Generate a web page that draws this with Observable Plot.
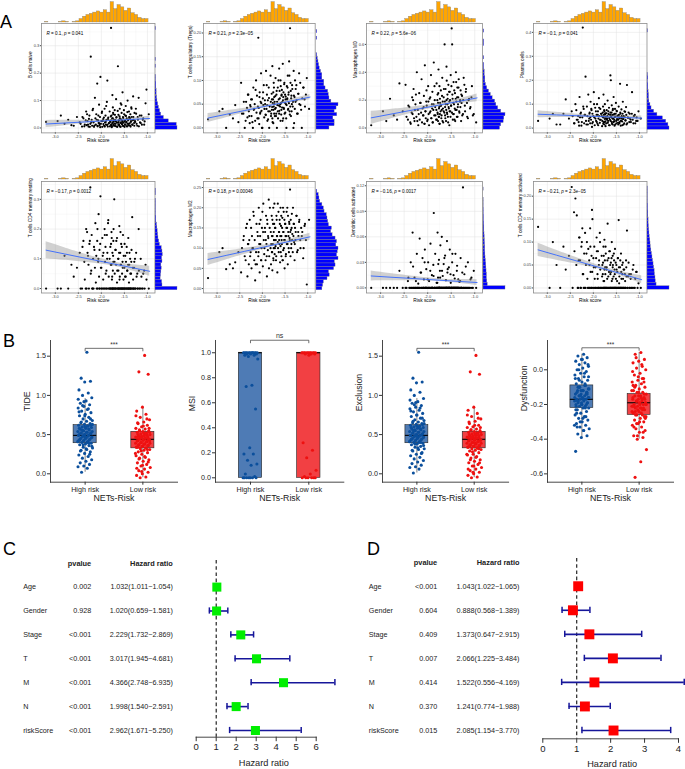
<!DOCTYPE html>
<html><head><meta charset="utf-8">
<script src="https://cdn.jsdelivr.net/npm/d3@7"></script>
<script src="https://cdn.jsdelivr.net/npm/@observablehq/plot@0.6"></script>
<style>
body{margin:0;background:#fff;}
#fig{position:relative;width:685px;height:769px;overflow:hidden;background:#fff;font-family:"Liberation Sans",Arial,Helvetica,sans-serif;}
.plab{position:absolute;font-size:18px;line-height:1;color:#000;}
</style></head><body><div id="fig"></div>
<script>
// ---------------- DATA ----------------
const riskScore = [-3.2,
-2.88,-2.8,-2.72, -2.6,-2.53, -2.47,-2.42, -2.39,-2.36,-2.33, -2.32,-2.3,-2.28,-2.26,
-2.24,-2.23,-2.21,-2.2,-2.18, -2.17,-2.16,-2.14,-2.13,-2.12,-2.11, -2.09,-2.08,-2.07,-2.06,-2.05,-2.04,-2.03,
-2.02,-2.01,-1.99,-1.98,-1.97,-1.96, -1.94,-1.93,-1.92,-1.91,-1.9,-1.89,-1.88, -1.87,-1.86,-1.85,-1.84,-1.82,-1.81,
-1.79,-1.79,-1.78,-1.78,-1.77,-1.76,-1.76,-1.75,-1.75,-1.74,-1.74,-1.73, -1.72,-1.71,-1.7,-1.69,-1.68,-1.67,-1.66,-1.66,
-1.64,-1.63,-1.63,-1.62,-1.61,-1.6,-1.6,-1.59,-1.58,-1.58, -1.57,-1.56,-1.55,-1.54,-1.54,-1.53,-1.52,-1.51,-1.5,
-1.49,-1.48,-1.47,-1.46,-1.45,-1.44,-1.43, -1.42,-1.41,-1.4,-1.39,-1.38,-1.37,-1.36,-1.35,
-1.34,-1.33,-1.31,-1.3,-1.29,-1.28, -1.27,-1.25,-1.22,-1.21, -1.19,-1.16,-1.13, -1.1,-1.07, -1.02,-0.97];
const riskScore2 = [-2.95,-2.65, -2.45,-2.41,-2.37,-2.34,-2.31, -2.29,-2.27,-2.25,-2.22,-2.19,-2.15,
-2.1,-2.085,-2.065,-2.045,-2.025,-2.0,-1.985, -1.955,-1.945,-1.925,-1.905,-1.895,-1.875,-1.855,-1.835,
-1.815,-1.805,-1.795,-1.785,-1.775,-1.765,-1.755,-1.745,-1.735,-1.725, -1.715,-1.705,-1.695,-1.685,-1.675,-1.655,-1.645,-1.635,
-1.625,-1.615,-1.605,-1.595,-1.585,-1.575,-1.565,-1.555,-1.545, -1.535,-1.525,-1.515,-1.505,-1.495,-1.485,-1.475,-1.465,
-1.455,-1.445,-1.435,-1.425,-1.415,-1.405,-1.395, -1.385,-1.375,-1.365,-1.355,-1.345,-1.325,-1.315,
-1.305,-1.285,-1.265,-1.245,-1.235, -1.205,-1.185,-1.165,-1.145, -1.12,-1.09,-1.06,-1.04];
const bCellsNaive = [0.022, 0.045,0.015,0.03, 0.008,0.04, 0.02,0.005, 0.035,0.012,0.06, 0.01,0.025,0.005,0.045,
0.015,0.26,0.03,0.008,0.07, 0.02,0.004,0.11,0.035,0.012,0.05, 0.162,0.006,0.028,0.018,0.085,0.01,0.04,
0.186,0.015,0.055,0.004,0.025,0.032, 0.008,0.07,0.02,0.045,0.012,0.03,0.095, 0.173,0.005,0.038,0.016,0.06,0.022,
0.365,0.01,0.028,0.045,0.006,0.12,0.018,0.035,0.075,0.012,0.05,0.024, 0.008,0.065,0.03,0.015,0.105,0.04,0.02,0.005,
0.225,0.012,0.048,0.026,0.008,0.07,0.035,0.018,0.09,0.004, 0.03,0.055,0.014,0.13,0.022,0.04,0.007,0.065,0.025,
0.012,0.045,0.08,0.02,0.035,0.006,0.1, 0.028,0.015,0.06,0.038,0.009,0.05,0.022,0.075, 0.04,0.012,0.115,0.03,0.018,0.055,
0.025,0.07,0.008,0.04, 0.11,0.02,0.045, 0.03,0.012, 0.14,0.05];
const bCellsNaive2 = [0.025,0.01, 0.015,0.04,0.006,0.028,0.05, 0.012,0.033,0.004,0.02,0.065,0.009,
0.03,0.008,0.045,0.017,0.003,0.025,0.06, 0.014,0.038,0.005,0.022,0.08,0.011,0.032,0.018,
0.006,0.027,0.042,0.013,0.003,0.035,0.02,0.055,0.009,0.03, 0.016,0.048,0.007,0.024,0.038,0.004,0.062,0.019,
0.028,0.011,0.042,0.005,0.033,0.02,0.085,0.014,0.026, 0.008,0.036,0.019,0.05,0.004,0.027,0.012,0.044,
0.022,0.006,0.058,0.015,0.031,0.009,0.04, 0.017,0.034,0.005,0.025,0.07,0.012,0.028,
0.04,0.008,0.022,0.052,0.015, 0.03,0.006,0.045,0.018, 0.012,0.035,0.024,0.09];
const tregs = [0.018, 0.04,0.0,0.028, 0.048,0.012, 0.095,0.03, 0.0,0.055,0.022, 0.07,0.035,0.01,0.045,
0.025,0.06,0.0,0.085,0.04, 0.05,0.015,0.1,0.032,0.068,0.02, 0.19,0.042,0.008,0.075,0.03,0.055,0.115,
0.036,0.0,0.062,0.048,0.09,0.022, 0.05,0.028,0.12,0.04,0.07,0.015,0.058, 0.035,0.085,0.0,0.045,0.11,0.025,
0.06,0.038,0.13,0.02,0.052,0.075,0.01,0.045,0.095,0.03,0.065,0.055, 0.04,0.105,0.025,0.07,0.0,0.048,0.085,0.035,
0.06,0.125,0.03,0.078,0.045,0.015,0.1,0.052,0.068,0.038, 0.08,0.055,0.135,0.02,0.065,0.042,0.092,0.03,0.07,
0.06,0.05,0.0,0.088,0.062,0.11,0.04, 0.075,0.14,0.035,0.21,0.095,0.025,0.068,0.05, 0.082,0.045,0.12,0.01,0.065,0.1,
0.055,0.09,0.03,0.072, 0.115,0.048,0.0, 0.085,0.06, 0.105,0.04];
const tregs2 = [0.035,0.02, 0.03,0.055,0.015,0.042,0.07, 0.025,0.048,0.06,0.012,0.038,0.08,
0.045,0.02,0.065,0.033,0.052,0.0,0.075, 0.04,0.058,0.027,0.09,0.048,0.018,0.063,0.035,
0.055,0.03,0.072,0.044,0.012,0.06,0.038,0.085,0.05,0.025, 0.067,0.042,0.03,0.078,0.055,0.02,0.1,0.047,
0.036,0.062,0.05,0.088,0.028,0.07,0.043,0.015,0.058, 0.075,0.04,0.095,0.053,0.032,0.066,0.02,0.048,
0.06,0.085,0.038,0.07,0.052,0.11,0.028, 0.045,0.078,0.062,0.035,0.09,0.055,0.0,
0.068,0.04,0.082,0.058,0.03, 0.072,0.05,0.095,0.038, 0.062,0.085,0.045,0.07];
const macrophagesM0 = [0.02, 0.05,0.21,0.09, 0.32,0.12, 0.31,0.06, 0.15,0.03,0.22, 0.1,0.28,0.05,0.17,
0.08,0.4,0.13,0.02,0.25, 0.06,0.18,0.11,0.35,0.04,0.14, 0.09,0.23,0.03,0.45,0.12,0.07,0.19,
0.16,0.05,0.3,0.1,0.02,0.21, 0.12,0.38,0.07,0.17,0.26,0.04,0.13, 0.47,0.09,0.2,0.15,0.06,0.32,
0.11,0.24,0.05,0.18,0.42,0.08,0.14,0.3,0.03,0.21,0.1,0.16, 0.27,0.07,0.13,0.36,0.19,0.04,0.22,0.12,
0.6,0.15,0.09,0.28,0.05,0.2,0.44,0.11,0.17,0.24, 0.08,0.31,0.14,0.19,0.02,0.26,0.12,0.38,0.16,
0.715,0.6,0.21,0.1,0.33,0.17,0.06, 0.25,0.13,0.4,0.19,0.08,0.29,0.15,0.22, 0.35,0.12,0.2,0.27,0.05,0.18,
0.23,0.1,0.31,0.16, 0.26,0.08,0.2, 0.14,0.22, 0.1,0.04];
const macrophagesM0b = [0.12,0.06, 0.08,0.16,0.04,0.11,0.2, 0.07,0.13,0.24,0.05,0.1,0.18,
0.09,0.15,0.03,0.12,0.27,0.06,0.19, 0.11,0.22,0.07,0.14,0.04,0.17,0.3,0.09,
0.13,0.06,0.2,0.1,0.25,0.08,0.15,0.03,0.18,0.12, 0.16,0.09,0.23,0.05,0.14,0.28,0.11,0.19,
0.07,0.17,0.13,0.34,0.1,0.21,0.04,0.15,0.26, 0.12,0.2,0.08,0.16,0.3,0.11,0.24,0.06,
0.18,0.1,0.27,0.14,0.05,0.21,0.33, 0.13,0.22,0.08,0.17,0.29,0.11,0.19,
0.15,0.24,0.09,0.2,0.36, 0.12,0.28,0.18,0.07, 0.21,0.15,0.3,0.09];
const plasmaCells = [0.03, 0.06,0.015,0.015, 0.12,0.04, 0.07,0.02, 0.1,0.035,0.05, 0.025,0.13,0.06,0.01,
0.045,0.42,0.08,0.02,0.055, 0.215,0.03,0.09,0.05,0.015,0.14, 0.04,0.065,0.02,0.11,0.035,0.075,0.005,
0.06,0.025,0.15,0.045,0.012,0.085, 0.03,0.055,0.1,0.018,0.07,0.04,0.125, 0.05,0.022,0.08,0.035,0.06,0.008,
0.045,0.09,0.025,0.14,0.055,0.015,0.07,0.038,0.1,0.028,0.062,0.048, 0.02,0.075,0.04,0.115,0.03,0.058,0.012,0.085,
0.035,0.065,0.22,0.2,0.045,0.025,0.095,0.055,0.015,0.075, 0.04,0.13,0.028,0.06,0.01,0.08,0.048,0.105,0.02,
0.07,0.035,0.052,0.015,0.09,0.042,0.025, 0.185,0.06,0.03,0.078,0.045,0.012,0.11,0.038, 0.05,0.02,0.068,0.032,0.088,0.015,
0.18,0.045,0.025,0.06, 0.035,0.15,0.02, 0.055,0.03, 0.07,0.04];
const plasmaCells2 = [0.04,0.06, 0.05,0.02,0.075,0.035,0.01, 0.045,0.065,0.025,0.09,0.055,0.015,
0.03,0.06,0.045,0.08,0.02,0.05,0.1, 0.04,0.07,0.025,0.055,0.012,0.085,0.035,0.06,
0.05,0.03,0.065,0.018,0.045,0.075,0.025,0.058,0.008,0.04, 0.062,0.035,0.05,0.022,0.07,0.042,0.012,0.055,
0.03,0.048,0.065,0.018,0.04,0.08,0.025,0.056,0.035, 0.045,0.015,0.06,0.03,0.072,0.038,0.05,0.022,
0.035,0.055,0.02,0.045,0.065,0.01,0.04, 0.05,0.028,0.06,0.038,0.015,0.07,0.045,
0.032,0.055,0.02,0.042,0.065, 0.04,0.025,0.06,0.035, 0.05,0.02,0.045,0.03];
const cd4MemoryResting = [0.0, 0.0,0.11,0.0, 0.04,0.07, 0.12,0.0, 0.16,0.03,0.2, 0.0,0.12,0.08,0.15,
0.34,0.05,0.18,0.0,0.1, 0.0,0.14,0.07,0.22,0.02,0.11, 0.16,0.0,0.09,0.25,0.04,0.13,0.0,
0.31,0.07,0.0,0.17,0.11,0.03, 0.0,0.2,0.09,0.14,0.0,0.06,0.18, 0.12,0.0,0.23,0.04,0.1,0.0,
0.15,0.0,0.08,0.19,0.03,0.0,0.12,0.06,0.0,0.16,0.09,0.0, 0.3,0.05,0.0,0.13,0.08,0.0,0.17,0.02,
0.0,0.1,0.06,0.0,0.21,0.04,0.0,0.12,0.08,0.0, 0.15,0.0,0.05,0.09,0.0,0.18,0.03,0.0,0.07,
0.0,0.11,0.04,0.0,0.14,0.06,0.0, 0.08,0.0,0.02,0.12,0.0,0.05,0.0,0.09, 0.0,0.24,0.03,0.0,0.07,0.0,
0.1,0.0,0.05,0.0, 0.2,0.0,0.04, 0.0,0.06, 0.03,0.0];
const cd4MemoryResting2 = [0.0,0.08, 0.0,0.14,0.09,0.0,0.19, 0.11,0.0,0.16,0.06,0.0,0.13,
0.0,0.2,0.1,0.0,0.15,0.07,0.0, 0.12,0.0,0.18,0.05,0.0,0.1,0.22,0.0,
0.0,0.14,0.08,0.0,0.17,0.04,0.0,0.11,0.2,0.0, 0.09,0.0,0.13,0.0,0.16,0.06,0.0,0.1,
0.0,0.12,0.03,0.0,0.19,0.08,0.0,0.14,0.0, 0.07,0.0,0.11,0.0,0.15,0.04,0.0,0.09,
0.0,0.12,0.06,0.0,0.17,0.0,0.08, 0.0,0.1,0.0,0.05,0.13,0.0,0.07,
0.0,0.09,0.0,0.12,0.04, 0.0,0.06,0.0,0.1, 0.0,0.05,0.0,0.08];
const macrophagesM2 = [0.026, 0.1,0.048,0.06, 0.065,0.09, 0.04,0.12, 0.08,0.15,0.03, 0.11,0.06,0.17,0.09,
0.05,0.13,0.1,0.19,0.07, 0.12,0.02,0.09,0.16,0.06,0.14, 0.08,0.2,0.11,0.04,0.13,0.17,0.07,
0.1,0.15,0.055,0.21,0.12,0.085, 0.14,0.07,0.18,0.11,0.03,0.16,0.095, 0.125,0.22,0.08,0.15,0.1,0.06,
0.13,0.09,0.17,0.045,0.11,0.2,0.075,0.14,0.1,0.16,0.12,0.085, 0.15,0.105,0.07,0.18,0.13,0.04,0.115,0.21,
0.09,0.14,0.12,0.17,0.065,0.2,0.105,0.155,0.08,0.13, 0.11,0.175,0.07,0.14,0.095,0.19,0.12,0.05,0.16,
0.13,0.085,0.15,0.11,0.2,0.06,0.14, 0.1,0.165,0.125,0.245,0.08,0.145,0.11,0.185, 0.135,0.09,0.16,0.115,0.07,0.15,
0.12,0.18,0.095,0.14, 0.165,0.1,0.13, 0.075,0.155, 0.01,0.17];
const macrophagesM2b = [0.09,0.05, 0.1,0.13,0.07,0.16,0.11, 0.12,0.08,0.15,0.1,0.18,0.06,
0.13,0.09,0.16,0.11,0.07,0.19,0.14, 0.1,0.15,0.12,0.08,0.17,0.13,0.05,0.2,
0.14,0.11,0.18,0.09,0.13,0.16,0.07,0.12,0.21,0.1, 0.15,0.12,0.08,0.17,0.13,0.1,0.19,0.14,
0.11,0.16,0.13,0.09,0.18,0.12,0.15,0.07,0.2, 0.14,0.1,0.17,0.12,0.16,0.08,0.13,0.19,
0.15,0.11,0.18,0.13,0.09,0.16,0.12, 0.14,0.17,0.1,0.15,0.12,0.2,0.13,
0.16,0.11,0.14,0.18,0.09, 0.13,0.17,0.12,0.15, 0.14,0.1,0.16,0.12];
const dcActivated = [0.0, 0.0,0.0,0.0, 0.02,0.0, 0.0,0.008, 0.0,0.03,0.0, 0.065,0.0,0.012,0.0,
0.0,0.04,0.0,0.005,0.0, 0.058,0.0,0.018,0.0,0.0,0.035, 0.0,0.01,0.0,0.045,0.0,0.0,0.022,
0.0,0.0,0.03,0.0,0.008,0.0, 0.052,0.0,0.0,0.015,0.0,0.0,0.027, 0.088,0.0,0.0,0.04,0.0,0.006,
0.0,0.065,0.0,0.012,0.0,0.0,0.033,0.0,0.0,0.02,0.0,0.05, 0.0,0.0,0.06,0.0,0.014,0.0,0.0,0.028,
0.0,0.0,0.038,0.0,0.009,0.0,0.0,0.055,0.0,0.018, 0.0,0.0,0.024,0.0,0.0,0.045,0.0,0.006,0.0,
0.0,0.03,0.0,0.0,0.015,0.0,0.0, 0.0,0.04,0.0,0.0,0.02,0.0,0.0,0.01, 0.0,0.0,0.008,0.035,0.0,0.0,
0.0,0.118,0.016,0.0, 0.025,0.0,0.0, 0.0,0.012, 0.02,0.0];
const dcActivated2 = [0.0,0.0, 0.0,0.012,0.0,0.0,0.025, 0.0,0.0,0.008,0.0,0.0,0.018,
0.0,0.0,0.03,0.0,0.0,0.01,0.0, 0.0,0.02,0.0,0.0,0.0,0.014,0.0,0.0,
0.0,0.0,0.006,0.0,0.028,0.0,0.0,0.0,0.012,0.0, 0.0,0.0,0.02,0.0,0.0,0.0,0.035,0.0,
0.0,0.009,0.0,0.0,0.0,0.022,0.0,0.0,0.0, 0.0,0.0,0.016,0.0,0.0,0.0,0.04,0.0,
0.0,0.0,0.0,0.011,0.0,0.0,0.0, 0.0,0.026,0.0,0.0,0.0,0.007,0.0,
0.0,0.0,0.018,0.0,0.0, 0.0,0.0,0.0,0.03, 0.0,0.01,0.0,0.0];
const cd4MemoryActivated = [0.133, 0.1,0.05,0.0, 0.04,0.07, 0.22,0.165, 0.195,0.158,0.0, 0.06,0.11,0.0,0.09,
0.13,0.03,0.0,0.075,0.12, 0.0,0.05,0.1,0.02,0.0,0.085, 0.06,0.0,0.13,0.035,0.0,0.07,0.17,
0.15,0.0,0.045,0.09,0.02,0.0, 0.065,0.11,0.0,0.03,0.08,0.0,0.05, 0.0,0.12,0.04,0.0,0.07,0.025,
0.055,0.0,0.09,0.015,0.0,0.04,0.105,0.0,0.06,0.03,0.0,0.075, 0.0,0.045,0.02,0.14,0.0,0.065,0.035,0.0,
0.08,0.0,0.03,0.055,0.0,0.1,0.015,0.0,0.045,0.07, 0.0,0.025,0.06,0.0,0.04,0.085,0.0,0.02,0.05,
0.0,0.035,0.065,0.0,0.148,0.01,0.0, 0.045,0.0,0.075,0.02,0.0,0.03,0.055,0.0, 0.0,0.04,0.015,0.0,0.06,0.025,
0.125,0.0,0.03,0.0, 0.02,0.0,0.05, 0.0,0.035, 0.01,0.0];
const cd4MemoryActivated2 = [0.0,0.09, 0.0,0.08,0.05,0.0,0.11, 0.06,0.0,0.1,0.03,0.0,0.075,
0.0,0.05,0.09,0.0,0.035,0.065,0.0, 0.045,0.0,0.08,0.02,0.0,0.06,0.1,0.0,
0.0,0.05,0.03,0.0,0.07,0.015,0.0,0.045,0.09,0.0, 0.04,0.0,0.06,0.0,0.025,0.08,0.0,0.05,
0.0,0.035,0.065,0.0,0.02,0.05,0.0,0.075,0.0, 0.03,0.0,0.055,0.0,0.04,0.015,0.0,0.065,
0.0,0.045,0.025,0.0,0.06,0.0,0.035, 0.0,0.05,0.0,0.02,0.04,0.0,0.03,
0.0,0.045,0.0,0.025,0.055, 0.0,0.03,0.0,0.04, 0.0,0.02,0.035,0.0];

const riskHistStart = -3.225, riskHistWidth = 0.075;
const riskHistCounts = [1,0,0,0,1,2,1,0,1,2,6,10,13,15,17,19,17,21,17,35,23,30,26,20,24,16,13,8,6,6];
const bCellsHist = [58,56,35,22,15,12,9,7,5,4,3,3,2,2,1,1,0,0,1,0,1,0,0,0,0,0,0,0,0,1];
const tregsHist = [20,28,28,26,32,28,31,34,23,20,19,18,14,12,12,9,9,7,5,4,3,2,1,0,0,0,0,1,0,1];
const m0Hist = [27,29,33,34,36,29,24,21,19,15,12,9,6,4,3,3,2,2,1,1,0,1,0,0,0,1,1,0,0,1];
const plasmaHist = [60,57,51,42,27,18,11,8,5,4,4,3,2,2,1,2,1,0,0,0,0,0,0,0,0,0,0,0,0,1];
const cd4RestHist = [60,19,18,14,15,16,17,16,19,18,20,19,17,12,10,8,7,6,5,4,2,2,1,1,1,1,1,0,1,1];
const m2Hist = [8,9,10,15,18,17,24,26,25,30,28,29,30,27,28,26,22,20,21,17,16,15,14,11,10,8,5,4,3,1];
const dcHist = [130,25,22,20,20,18,17,16,14,12,11,10,10,9,8,7,6,5,5,4,3,3,2,2,1,1,1,0,0,1];
const cd4ActHist = [80,33,30,29,27,26,24,22,20,18,16,14,12,11,10,8,7,6,5,4,4,3,3,2,2,1,1,1,1,1];

const fitX = [-3.2,-2.8,-2.4,-1.75,-1.3,-0.95];
const bCellsFit = [0.0144,0.018,0.0216,0.0275,0.0315,0.0347], bCellsLo = [0.0014,0.0083,0.0151,0.0242,0.0264,0.027], bCellsHi = [0.0274,0.0277,0.0281,0.0308,0.0366,0.0424];
const tregsFit = [0.0207,0.0286,0.0364,0.0492,0.058,0.0649], tregsLo = [0.0112,0.0215,0.0316,0.0468,0.0543,0.0593], tregsHi = [0.0302,0.0357,0.0412,0.0516,0.0617,0.0705];
const m0Fit = [0.073,0.0985,0.1239,0.1651,0.1937,0.216], m0Lo = [0.026,0.0635,0.1003,0.1532,0.1753,0.1883], m0Hi = [0.12,0.1335,0.1475,0.177,0.2121,0.2437];
const plasmaFit = [0.058,0.0551,0.0521,0.0474,0.0441,0.0415], plasmaLo = [0.0435,0.0443,0.0448,0.0437,0.0384,0.0329], plasmaHi = [0.0725,0.0659,0.0594,0.0511,0.0498,0.0501];
const cd4RestFit = [0.129,0.1164,0.1037,0.0833,0.0691,0.058], cd4RestLo = [0.1005,0.0952,0.0894,0.0761,0.0579,0.0412], cd4RestHi = [0.1575,0.1376,0.118,0.0905,0.0803,0.0748];
const m2Fit = [0.072,0.082,0.0919,0.1081,0.1193,0.128], m2Lo = [0.057,0.0708,0.0844,0.1043,0.1134,0.1191], m2Hi = [0.087,0.0932,0.0994,0.1119,0.1252,0.1369];
const dcFit = [0.014,0.0126,0.0113,0.009,0.0075,0.0063], dcLo = [0.0082,0.0083,0.0084,0.0075,0.0052,0.0029], dcHi = [0.0198,0.0169,0.0142,0.0105,0.0098,0.0097];
const cd4ActFit = [0.083,0.0714,0.0599,0.0412,0.0281,0.018], cd4ActLo = [0.0685,0.0606,0.0526,0.0375,0.0224,0.0094], cd4ActHi = [0.0975,0.0822,0.0672,0.0449,0.0338,0.0266];

const corrLabels = ["R = 0.1, p = 0.041","R = 0.21, p = 2.3e\u221205","R = 0.22, p = 5.6e\u221206","R = \u22120.1, p = 0.041",
  "R = \u22120.17, p = 0.0012","R = 0.18, p = 0.00046","R = \u22120.16, p = 0.0017","R = \u22120.21, p = 2.3e\u221205"];
const cellTitles = ["B cells naive","T cells regulatory (Tregs)","Macrophages M0","Plasma cells",
  "T cells CD4 memory resting","Macrophages M2","Dendritic cells activated","T cells CD4 memory activated"];

const riskGroups = ["High risk","Low risk"];
const tideHigh = [1.55,1.22,1.18,1.17,1.07,1.03,1.0,0.97,0.93,0.9,0.88,0.86,0.84,0.82,0.8,0.78,0.76,0.74,0.72,0.7,0.68,0.67,0.65,0.64,0.63,0.62,0.61,0.6,0.59,0.58,0.57,0.56,0.55,0.54,0.53,0.52,0.51,0.5,0.5,0.49,0.48,0.47,0.46,0.45,0.44,0.43,0.42,0.41,0.4,0.39,0.38,0.37,0.36,0.34,0.33,0.31,0.3,0.28,0.26,0.24,0.22,0.2,0.18,0.16,0.14,0.12,0.1,0.09,0.07,0.02,
  0.62,0.6,0.58,0.57,0.55,0.54,0.53,0.52,0.51,0.5,0.49,0.48,0.47,0.46,0.45,0.44,0.43,0.42,0.41,0.4,0.66,0.7,0.74,0.79,0.83,0.87,0.35,0.32,0.29,0.25,0.92,0.95,0.61,0.56,0.52,0.47,0.43,0.39,0.37,0.63];
const tideLow = [1.51,1.3,1.27,0.85,0.8,0.76,0.72,0.69,0.66,0.64,0.62,0.6,0.58,0.57,0.56,0.55,0.54,0.53,0.52,0.51,0.5,0.49,0.48,0.47,0.47,0.46,0.45,0.44,0.44,0.43,0.42,0.41,0.4,0.39,0.38,0.37,0.36,0.35,0.34,0.33,0.32,0.31,0.3,0.28,0.27,0.25,0.23,0.21,0.2,0.18,0.16,0.14,0.12,0.1,0.08,0.06,0.04,0.02,0.0,-0.02,-0.04,-0.05,
  0.53,0.52,0.5,0.49,0.48,0.47,0.46,0.45,0.44,0.43,0.42,0.41,0.4,0.39,0.38,0.37,0.36,0.35,0.34,0.33,0.55,0.58,0.61,0.65,0.7,0.29,0.26,0.22,0.19,0.15,0.11,0.07,0.51,0.46,0.42,0.38,0.34,0.31,0.03,0.74];
const tideHighBox = [0.02,0.39,0.49,0.62,0.96], tideLowBox = [-0.05,0.325,0.44,0.535,0.85];
const msiHigh = [1,1,1,1,1,1,1,1,1,1,1,1,1,1,0.99,0.99,0.99,0.98,0.98,0.97,0.95,0.74,0.73,0.55,0.24,0.19,0.19,0.14,0.11,0.1,0.03,0.01,0,0,0,0,0,0,0];
const msiLow = [1,1,1,1,1,1,1,1,1,1,1,1,1,0.99,0.99,0.99,0.98,0.28,0.22,0.16,0.06,0.03,0.01,0,0,0,0,0,0];
const msiHighBox = [0,0,1,1,1], msiLowBox = [0,0,1,1,1];
const exclHigh = [1.55,1.22,1.17,1.16,1.07,1.04,1.0,0.96,0.92,0.9,0.87,0.85,0.83,0.81,0.79,0.77,0.75,0.73,0.71,0.69,0.68,0.66,0.65,0.64,0.63,0.62,0.61,0.6,0.59,0.58,0.57,0.56,0.55,0.54,0.53,0.52,0.51,0.5,0.49,0.49,0.48,0.47,0.46,0.45,0.44,0.43,0.42,0.41,0.4,0.39,0.38,0.37,0.35,0.34,0.32,0.31,0.29,0.27,0.25,0.23,0.21,0.19,0.17,0.15,0.13,0.11,0.09,0.08,0.06,0.01,
  0.63,0.61,0.59,0.57,0.56,0.54,0.53,0.52,0.5,0.5,0.49,0.48,0.47,0.46,0.45,0.44,0.43,0.42,0.41,0.4,0.67,0.71,0.75,0.8,0.84,0.88,0.36,0.33,0.3,0.26,0.91,0.94,0.6,0.55,0.51,0.48,0.44,0.4,0.38,0.64];
const exclLow = [1.51,1.3,1.27,0.85,0.81,0.77,0.73,0.7,0.67,0.64,0.62,0.6,0.59,0.57,0.56,0.55,0.54,0.53,0.52,0.51,0.5,0.49,0.48,0.47,0.46,0.46,0.45,0.44,0.43,0.43,0.42,0.41,0.4,0.39,0.38,0.37,0.36,0.35,0.34,0.33,0.32,0.31,0.3,0.29,0.27,0.25,0.24,0.22,0.2,0.18,0.16,0.14,0.12,0.1,0.08,0.06,0.04,0.02,0.0,-0.02,-0.04,-0.05,
  0.53,0.51,0.5,0.49,0.48,0.47,0.46,0.45,0.44,0.43,0.42,0.41,0.4,0.39,0.38,0.37,0.36,0.35,0.34,0.33,0.56,0.59,0.62,0.66,0.71,0.28,0.25,0.21,0.18,0.14,0.1,0.06,0.52,0.47,0.43,0.39,0.35,0.32,0.02,0.75];
const exclHighBox = [0.01,0.39,0.49,0.62,0.96], exclLowBox = [-0.05,0.325,0.44,0.535,0.85];
const dysfHigh = [0.09,0.08,0.07,0.06,0.05,0.04,0.03,0.02,0.01,0.0,-0.01,-0.02,-0.03,-0.04,-0.05,-0.06,-0.07,-0.08,-0.09,-0.1,-0.11,-0.12,-0.12,-0.13,-0.14,-0.14,-0.15,-0.15,-0.16,-0.16,-0.17,-0.17,-0.17,-0.18,-0.18,-0.19,-0.19,-0.2,-0.2,-0.21,-0.21,-0.22,-0.22,-0.23,-0.24,-0.25,-0.26,-0.27,-0.28,-0.29,-0.3,-0.31,-0.32,-0.33,-0.34,-0.35,-0.37,-0.38,-0.39,-0.47,
  -0.09,-0.1,-0.11,-0.12,-0.13,-0.14,-0.15,-0.16,-0.17,-0.18,-0.19,-0.2,-0.21,-0.22,-0.15,-0.16,-0.17,-0.18,-0.13,-0.12,-0.05,-0.02,0.0,0.03,0.06,-0.25,-0.27,-0.3,-0.32,-0.35,-0.1,-0.14,-0.19,-0.23,-0.08,-0.06,-0.04,-0.28,-0.33,-0.2];
const dysfLow = [0.1,0.09,0.06,0.05,0.04,0.02,0.01,0.0,-0.02,-0.03,-0.05,-0.06,-0.07,-0.08,-0.09,-0.1,-0.11,-0.12,-0.13,-0.13,-0.14,-0.15,-0.15,-0.16,-0.17,-0.17,-0.18,-0.18,-0.19,-0.19,-0.2,-0.2,-0.21,-0.21,-0.22,-0.22,-0.23,-0.24,-0.25,-0.26,-0.26,-0.27,-0.28,-0.29,-0.3,-0.31,-0.32,-0.33,-0.34,-0.35,-0.36,-0.38,-0.39,-0.4,-0.46,-0.53,-0.62,
  -0.14,-0.15,-0.16,-0.17,-0.18,-0.19,-0.2,-0.21,-0.22,-0.23,-0.24,-0.25,-0.26,-0.17,-0.19,-0.21,-0.23,-0.18,-0.2,-0.22,-0.1,-0.07,-0.04,-0.01,0.03,0.07,-0.28,-0.3,-0.33,-0.36,-0.38,-0.12,-0.16,-0.24,-0.27,-0.13,-0.09,-0.05,-0.31,-0.2];
const dysfHighBox = [-0.39,-0.22,-0.17,-0.09,0.09], dysfLowBox = [-0.4,-0.26,-0.19,-0.14,0.1];
const sigLabels = ["***","ns","***","***"];
const sigHeights = [1.6,1.1,1.6,0.127];

const coxVars = ["Age","Gender","Stage","T","M","N","riskScore"];
const uniP = ["0.002","0.928","<0.001","<0.001","<0.001","<0.001","<0.001"];
const uniHR = [1.032,1.020,2.229,3.017,4.366,1.998,2.962];
const uniLo = [1.011,0.659,1.732,1.945,2.748,1.540,1.671];
const uniHi = [1.054,1.581,2.869,4.681,6.935,2.591,5.250];
const multiP = ["<0.001","0.604","0.409","0.007","0.414","0.370","0.015"];
const multiHR = [1.043,0.888,1.373,2.066,1.522,1.241,2.085];
const multiLo = [1.022,0.568,0.647,1.225,0.556,0.774,1.154];
const multiHi = [1.065,1.389,2.915,3.484,4.169,1.988,3.770];

// ---------------- RENDER ----------------
const fig = document.getElementById("fig");
const FONT = '"Liberation Sans", Arial, Helvetica, sans-serif';
function st(fs, color) { return {fontFamily: FONT, fontSize: fs + "px", background: "transparent", overflow: "visible", color: color || "#000"}; }
function put(node, left, top) {
  node.style.position = "absolute"; node.style.left = left + "px"; node.style.top = top + "px";
  node.style.maxWidth = "none"; node.style.overflow = "visible"; node.style.background = "transparent";
  fig.appendChild(node);
}
function fmt(d, dec) { return (d < 0 ? "-" : "") + Math.abs(d).toFixed(dec); }
function label(txt, left, top) { const d = document.createElement("div"); d.className = "plab"; d.textContent = txt; d.style.left = left + "px"; d.style.top = top + "px"; fig.appendChild(d); }

const xDomain = [-3.3, -0.835];
const xMajor = [-3, -2.5, -2, -1.5, -1];
const xMinor = xMajor.map(t => t - 0.25);
const panelsA = [
  {y: bCellsNaive, y2: bCellsNaive2, hist: bCellsHist, bw: 0.0125, fit: bCellsFit, lo: bCellsLo, hi: bCellsHi, ticks: [0,0.1,0.2,0.3], dec: 1, domain: [-0.018, 0.381]},
  {y: tregs, y2: tregs2, hist: tregsHist, bw: 0.007, fit: tregsFit, lo: tregsLo, hi: tregsHi, ticks: [0,0.05,0.1,0.15,0.2], dec: 2, domain: [-0.0105, 0.22]},
  {y: macrophagesM0, y2: macrophagesM0b, hist: m0Hist, bw: 0.024, fit: m0Fit, lo: m0Lo, hi: m0Hi, ticks: [0,0.2,0.4,0.6], dec: 1, domain: [-0.035, 0.75]},
  {y: plasmaCells, y2: plasmaCells2, hist: plasmaHist, bw: 0.014, fit: plasmaFit, lo: plasmaLo, hi: plasmaHi, ticks: [0,0.1,0.2,0.3,0.4], dec: 1, domain: [-0.02, 0.437]},
  {y: cd4MemoryResting, y2: cd4MemoryResting2, hist: cd4RestHist, bw: 0.0114, fit: cd4RestFit, lo: cd4RestLo, hi: cd4RestHi, ticks: [0,0.1,0.2,0.3], dec: 1, domain: [-0.015, 0.36]},
  {y: macrophagesM2, y2: macrophagesM2b, hist: m2Hist, bw: 0.0083, fit: m2Fit, lo: m2Lo, hi: m2Hi, ticks: [0,0.05,0.1,0.15,0.2,0.25], dec: 2, domain: [-0.011, 0.265]},
  {y: dcActivated, y2: dcActivated2, hist: dcHist, bw: 0.004, fit: dcFit, lo: dcLo, hi: dcHi, ticks: [0,0.03,0.06,0.09,0.12], dec: 2, domain: [-0.006, 0.125]},
  {y: cd4MemoryActivated, y2: cd4MemoryActivated2, hist: cd4ActHist, bw: 0.0075, fit: cd4ActFit, lo: cd4ActLo, hi: cd4ActHi, ticks: [0,0.05,0.1,0.15,0.2], dec: 2, domain: [-0.011, 0.232]}
];
const colsA = [[41,154.5],[203.3,315],[366,482],[532.5,646]];
const rowsA = [[23.3,132.7],[180.5,292]];
const riskBins = riskHistCounts.map((n, i) => ({x1: riskHistStart + i * riskHistWidth, x2: riskHistStart + (i + 1) * riskHistWidth, n}));

function italicize(svg) {
  svg.querySelectorAll("text").forEach(t => {
    const m = t.textContent.match(/^R = (.*), p = (.*)$/);
    if (!m) return;
    const NS = "http://www.w3.org/2000/svg";
    while (t.firstChild) t.removeChild(t.firstChild);
    const parts = [["R", true], [" = " + m[1] + ", ", false], ["p", true], [" = " + m[2], false]];
    for (const [s, it] of parts) { const ts = document.createElementNS(NS, "tspan"); ts.textContent = s; if (it) ts.setAttribute("font-style", "italic"); t.appendChild(ts); }
  });
}

panelsA.forEach((p, k) => {
  const [bl, br] = colsA[k % 4], [bt, bb] = rowsA[Math.floor(k / 4)];
  const w = br - bl, h = bb - bt;
  const ML = 32, MT = 1, MR = 1, MB = 14;
  const pts = [];
  for (let i = 0; i < Math.min(riskScore.length, p.y.length); i++) pts.push({x: riskScore[i], y: p.y[i]});
  for (let i = 0; i < Math.min(riskScore2.length, p.y2.length); i++) pts.push({x: riskScore2[i], y: p.y2[i]});
  const fit = fitX.map((x, i) => ({x, y: p.fit[i], lo: p.lo[i], hi: p.hi[i]}));
  const step = p.ticks[1] - p.ticks[0];
  const yMinor = [p.ticks[0] - step / 2, ...p.ticks.map(t => t + step / 2)].filter(v => v > p.domain[0] && v < p.domain[1]);
  const labW = Math.max(...p.ticks.map(t => fmt(t, p.dec).length)) * 2.0;
  const svg = Plot.plot({
    width: w + ML + MR, height: h + MT + MB,
    marginLeft: ML, marginRight: MR, marginTop: MT, marginBottom: MB,
    style: st(4, "#444"),
    x: {domain: xDomain},
    y: {domain: p.domain},
    marks: [
      Plot.ruleX(xMinor, {stroke: "#f0f0f0", strokeWidth: 0.35}),
      Plot.ruleY(yMinor, {stroke: "#f0f0f0", strokeWidth: 0.35}),
      Plot.ruleX(xMajor, {stroke: "#e0e0e0", strokeWidth: 0.5}),
      Plot.ruleY(p.ticks, {stroke: "#e0e0e0", strokeWidth: 0.5}),
      Plot.dot(pts, {x: "x", y: "y", r: 1.1, fill: "#000", stroke: null}),
      Plot.areaY(fit, {x: "x", y1: "lo", y2: "hi", fill: "#999", fillOpacity: 0.45, curve: "natural"}),
      Plot.line(fit, {x: "x", y: "y", stroke: "#3366FF", strokeWidth: 0.9}),
      Plot.frame({stroke: "#8c8c8c", strokeWidth: 0.8}),
      Plot.axisX({ticks: xMajor, tickSize: 1.2, tickPadding: 1, tickFormat: d => fmt(d, 1), label: null, stroke: "#444"}),
      Plot.axisY({ticks: p.ticks, tickSize: 1.2, tickPadding: 1, tickFormat: d => fmt(d, p.dec), label: null, stroke: "#444"}),
      Plot.text([cellTitles[k]], {frameAnchor: "left", rotate: -90, dx: -(2.2 + labW + 3.2), fontSize: 4.8, fill: "#000"}),
      Plot.text(["Risk score"], {frameAnchor: "bottom", dy: 9.4, fontSize: 4.8, fill: "#000"}),
      Plot.text([corrLabels[k]], {frameAnchor: "top-left", dx: 5, dy: 8, fontSize: 4.6, textAnchor: "start", fill: "#000"})
    ]
  });
  italicize(svg);
  put(svg, bl - ML, bt - MT);
  const top = Plot.plot({
    width: w, height: 21, margin: 0, style: st(4),
    x: {domain: xDomain, axis: null}, y: {domain: [0, d3.max(riskHistCounts)], range: [21, 0.6], axis: null},
    marks: [Plot.rectY(riskBins, {x1: "x1", x2: "x2", y: "n", fill: "#FFA500", stroke: "#808080", strokeWidth: 0.35})]
  });
  put(top, bl, bt - 22.5);
  const bins = p.hist.map((c, i) => ({y1: (i - 0.5) * p.bw, y2: (i + 0.5) * p.bw, n: c}));
  const right = Plot.plot({
    width: 24, height: h, margin: 0, style: st(4),
    y: {domain: p.domain, axis: null}, x: {domain: [0, d3.max(p.hist)], range: [0, 22], axis: null},
    marks: [Plot.rectX(bins, {y1: "y1", y2: "y2", x: "n", fill: "#0000FF", stroke: "#808080", strokeWidth: 0.35})]
  });
  put(right, br + 0.8, bt);
});

const panelsB = [
  {title: "TIDE", high: tideHigh, low: tideLow, hb: tideHighBox, lb: tideLowBox, domain: [-0.107, 1.70], ticks: [0, 0.5, 1.0, 1.5], frame: [50, 177]},
  {title: "MSI", high: msiHigh, low: msiLow, hb: msiHighBox, lb: msiLowBox, domain: [-0.035, 1.098], ticks: [0, 0.2, 0.4, 0.6, 0.8, 1.0], frame: [215, 343.3]},
  {title: "Exclusion", high: exclHigh, low: exclLow, hb: exclHighBox, lb: exclLowBox, domain: [-0.107, 1.70], ticks: [0, 0.5, 1.0, 1.5], frame: [381.6, 507.7]},
  {title: "Dysfunction", high: dysfHigh, low: dysfLow, hb: dysfHighBox, lb: dysfLowBox, domain: [-0.648, 0.169], ticks: [-0.6, -0.4, -0.2, 0.0], frame: [547.3, 673.3]}
];
const blue = "#0B4F9C", red = "#EE1111";
const boxFill = ["#2F64A8", "#F01E22"];
panelsB.forEach((p, k) => {
  const [fl, fr] = p.frame, ft = 340, fb = 481.7;
  const ML = 40, MR = 8, MT = 10, H = 190, MB = H - MT - (fb - ft);
  const xd = [0.4, 2.6];
  const hp = p.high.map((v, i) => ({x: 1 + ((((i + 1) * 0.618034) % 1) - 0.5) * 0.26, v}));
  const lp = p.low.map((v, i) => ({x: 2 + ((((i + 1) * 0.618034) % 1) - 0.5) * 0.26, v}));
  const boxes = [{g: 1, s: p.hb}, {g: 2, s: p.lb}];
  const yb = sigHeights[k], span = p.domain[1] - p.domain[0], tip = yb - span * 0.018;
  const bracket = [{x: 1, y: tip}, {x: 1, y: yb}, {x: 2, y: yb}, {x: 2, y: tip}];
  const svg = Plot.plot({
    width: (fr - fl) + ML + MR, height: H,
    marginLeft: ML, marginRight: MR, marginTop: MT, marginBottom: MB,
    style: st(7.2, "#222"),
    x: {domain: xd}, y: {domain: p.domain},
    marks: [
      Plot.ruleX(boxes, {x: "g", y1: d => d.s[0], y2: d => d.s[1], stroke: "#333", strokeWidth: 0.6}),
      Plot.ruleX(boxes, {x: "g", y1: d => d.s[3], y2: d => d.s[4], stroke: "#333", strokeWidth: 0.6}),
      Plot.rect([boxes[0]], {x1: d => d.g - 0.2, x2: d => d.g + 0.2, y1: d => d.s[1], y2: d => d.s[3], fill: boxFill[0], stroke: "#222", strokeWidth: 0.6, fillOpacity: 0.85}),
      Plot.rect([boxes[1]], {x1: d => d.g - 0.2, x2: d => d.g + 0.2, y1: d => d.s[1], y2: d => d.s[3], fill: boxFill[1], stroke: "#222", strokeWidth: 0.6, fillOpacity: 0.85}),
      Plot.ruleY(boxes, {y: d => d.s[2], x1: d => d.g - 0.2, x2: d => d.g + 0.2, stroke: "#000", strokeWidth: 1.1}),
      Plot.dot(hp, {x: "x", y: "v", r: 1.55, fill: blue, stroke: null}),
      Plot.dot(lp, {x: "x", y: "v", r: 1.55, fill: red, stroke: null}),
      Plot.line(bracket, {x: "x", y: "y", stroke: "#333", strokeWidth: 0.7}),
      Plot.text([sigLabels[k]], {x: () => 1.5, y: () => yb, dy: sigLabels[k] === "ns" ? -4.5 : -3, fontSize: sigLabels[k] === "ns" ? 7 : 6.5, fill: "#333"}),
      Plot.frame({anchor: "left", stroke: "#333", strokeWidth: 0.9}),
      Plot.frame({anchor: "bottom", stroke: "#333", strokeWidth: 0.9}),
      Plot.axisY({ticks: p.ticks, tickSize: 3, tickPadding: 1.5, tickFormat: d => fmt(d, 1), label: null, stroke: "#333"}),
      Plot.axisX({ticks: [1, 2], tickSize: 3, tickPadding: 1.5, tickFormat: d => riskGroups[d - 1], label: null, stroke: "#333"}),
      Plot.text([p.title], {frameAnchor: "left", rotate: -90, dx: -23.5, fontSize: 8.8, fill: "#222"}),
      Plot.text(["NETs-Risk"], {frameAnchor: "bottom", dy: 19, fontSize: 8.8, fill: "#222"})
    ]
  });
  put(svg, fl - ML, ft - MT);
});

function forest(cfg) {
  const rows = coxVars.map((nm, i) => ({i: i + 1, name: nm, p: cfg.p[i], hr: cfg.hr[i], lo: cfg.lo[i], hi: cfg.hi[i],
    txt: cfg.hr[i].toFixed(3) + "(" + cfg.lo[i].toFixed(3) + "\u2212" + cfg.hi[i].toFixed(3) + ")"}));
  const H = 214;
  const table = Plot.plot({
    width: cfg.tableW, height: H, margin: 0, style: st(7.2, "#222"),
    y: {domain: [0, 7], range: [cfg.y0, 175], axis: null},
    marks: [
      Plot.text(["pvalue"], {y: () => 0, frameAnchor: "left", dx: cfg.pX, textAnchor: "end", fontWeight: "bold", fontSize: 7.4}),
      Plot.text(["Hazard ratio"], {y: () => 0, frameAnchor: "left", dx: cfg.hrX, textAnchor: "end", fontWeight: "bold", fontSize: 7.4}),
      Plot.text(rows, {y: "i", text: "name", frameAnchor: "left", dx: cfg.nameX, textAnchor: "start"}),
      Plot.text(rows, {y: "i", text: "p", frameAnchor: "left", dx: cfg.pX, textAnchor: "end"}),
      Plot.text(rows, {y: "i", text: "txt", frameAnchor: "left", dx: cfg.hrX, textAnchor: "end"})
    ]
  });
  put(table, cfg.tableLeft, 555);
  const navy = "#16169a";
  const cap = 0.13;
  const plot = Plot.plot({
    width: cfg.w, height: H, marginLeft: cfg.ml, marginRight: cfg.mr, marginTop: cfg.mt, marginBottom: cfg.mb,
    style: st(9.5, "#222"),
    x: {domain: cfg.xd}, y: {domain: [0, 7], range: [cfg.y0, 175], axis: null},
    marks: [
      Plot.ruleX([1], {stroke: "#111", strokeWidth: 1.1, strokeDasharray: "3.6,2.6"}),
      Plot.ruleY(rows, {y: "i", x1: "lo", x2: "hi", stroke: navy, strokeWidth: 1.6}),
      Plot.ruleX(rows, {x: "lo", y1: d => d.i - cap, y2: d => d.i + cap, stroke: navy, strokeWidth: 1.5}),
      Plot.ruleX(rows, {x: "hi", y1: d => d.i - cap, y2: d => d.i + cap, stroke: navy, strokeWidth: 1.5}),
      Plot.dot(rows, {x: "hr", y: "i", symbol: "square", r: cfg.r, fill: cfg.color, stroke: null}),
      Plot.frame({anchor: "bottom", stroke: "#333", strokeWidth: 0.9}),
      Plot.axisX({ticks: d3.range(cfg.xd[0], cfg.xd[1] + 1), tickSize: 4.5, tickPadding: 2, tickFormat: d => String(d), label: null, stroke: "#333"}),
      Plot.text(["Hazard ratio"], {frameAnchor: "bottom", dy: 28.3, dx: cfg.labDx, fontSize: 9.2})
    ]
  });
  put(plot, cfg.left, 555);
}
forest({p: uniP, hr: uniHR, lo: uniLo, hi: uniHi, tableLeft: 0, tableW: 185, nameX: 22.7, pX: 90.7, hrX: 172.3, y0: 7.7,
  left: 185, w: 155, ml: 10.7, mr: 24.3, mt: 5, mb: 32.3, xd: [0, 6], r: 5.1, color: "#00EE00", labDx: 7.6});
forest({p: multiP, hr: multiHR, lo: multiLo, hi: multiHi, tableLeft: 340, tableW: 190, nameX: 28.3, pX: 96.7, hrX: 179, y0: 6.7,
  left: 532, w: 153, ml: 10.3, mr: 7, mt: 3, mb: 30.7, xd: [0, 4], r: 5.6, color: "#FF0000", labDx: 1.5});

label("A", 0, 12.8);
label("B", 3, 331.5);
label("C", 3, 539.8);
label("D", 367, 539.8);
</script></body></html>
